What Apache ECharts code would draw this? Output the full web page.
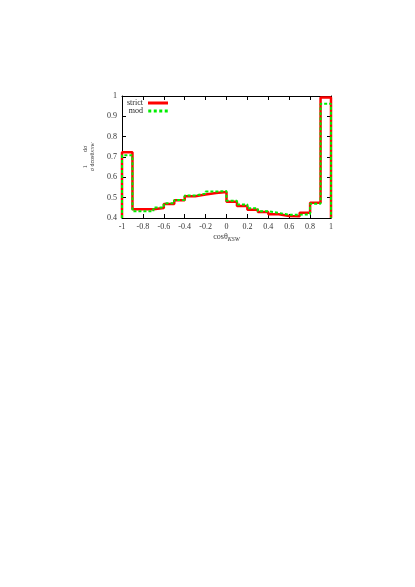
<!DOCTYPE html>
<html><head><meta charset="utf-8">
<script src="https://cdn.jsdelivr.net/npm/echarts@6/dist/echarts.min.js"></script>
<style>html,body{margin:0;padding:0;background:#fff}#c{width:415px;height:587px}</style>
</head><body><div id="c"></div>
<script>
// bin lower edges of cos(theta_KSW), width 0.1
var binEdges = [-1,-0.9,-0.8,-0.7,-0.6,-0.5,-0.4,-0.3,-0.2,-0.1,0,0.1,0.2,0.3,0.4,0.5,0.6,0.7,0.8,0.9];
var strictVals = [0.723,0.443,0.443,0.449,0.469,0.487,0.507,0.516,0.523,0.528,0.480,0.459,0.441,0.430,0.418,0.410,0.408,0.426,0.475,0.993];
var modVals    = [0.708,0.433,0.433,0.452,0.472,0.489,0.511,0.520,0.530,0.533,0.485,0.467,0.448,0.433,0.425,0.416,0.416,0.418,0.470,0.962];
var xTicks = [-1,-0.8,-0.6,-0.4,-0.2,0,0.2,0.4,0.6,0.8,1];
var yTicks = [0.4,0.5,0.6,0.7,0.8,0.9,1];

function hist(vals){
  var d = [[binEdges[0], 0.4]];
  for (var i=0;i<vals.length;i++) d.push([binEdges[i], vals[i]]);
  d.push([1, vals[vals.length-1]]);
  d.push([1, 0.4]);
  return d;
}
var font = 'Liberation Serif';
var fmt = function(v){ return String(+v.toFixed(1)); };
var chart = echarts.init(document.getElementById('c'));
var axBase = {
  type:'value', min:-1, max:1, interval:0.2,
  axisLine:{show:true,onZero:false,lineStyle:{color:'#000',width:1}},
  axisTick:{show:true,inside:true,length:4,lineStyle:{color:'#000',width:1}},
  splitLine:{show:false}
};
var ayBase = {
  type:'value', min:0.4, max:1, interval:0.1,
  axisLine:{show:true,onZero:false,lineStyle:{color:'#000',width:1}},
  axisTick:{show:true,inside:true,length:4,lineStyle:{color:'#000',width:1}},
  splitLine:{show:false}
};
chart.setOption({
  animation:false,
  backgroundColor:'#fff',
  grid:{left:122,top:96,width:209,height:122},
  legend:{
    orient:'vertical', left:118, top:97, align:'right', itemGap:0,
    itemWidth:20, itemHeight:3, padding:[2,5,2,5],
    formatter:'{t|{name}}',
    textStyle:{fontFamily:font,fontSize:8,color:'#222',lineHeight:7,
      rich:{t:{fontFamily:font,fontSize:8,color:'#222',width:20,align:'right',lineHeight:7}}},
    data:[
      {name:'strict',icon:'rect',itemStyle:{color:'#ff0000'}},
      {name:'mod',icon:'path://M0,0h3v3h-3zM5.5,0h3v3h-3zM11,0h3v3h-3zM16.5,0h3v3h-3z',itemStyle:{color:'#00ee00'}}
    ]
  },
  xAxis:[
    Object.assign({}, axBase, {position:'bottom',
      axisLabel:{fontFamily:font,fontSize:8,color:'#333',margin:5,formatter:fmt},
      name:'{a|cosθ}{b|KSW}', nameLocation:'middle', nameGap:14,
      nameTextStyle:{rich:{a:{fontFamily:font,fontSize:8,color:'#333'},b:{fontFamily:font,fontSize:6,fontStyle:'italic',color:'#333',verticalAlign:'bottom',padding:[4,0,0,0]}}}
    }),
    Object.assign({}, axBase, {position:'top', axisLabel:{show:false}})
  ],
  yAxis:[
    Object.assign({}, ayBase, {position:'left',
      axisLabel:{fontFamily:font,fontSize:8,color:'#333',margin:5,formatter:fmt},
      name:'{n|1}    {n|dσ}\n{n|σ}{n| dcosθ}{s|KSW}', nameLocation:'middle', nameGap:25, nameRotate:90,
      nameTextStyle:{lineHeight:7,rich:{n:{fontFamily:font,fontSize:6,color:'#333',lineHeight:7},s:{fontFamily:font,fontSize:5,fontStyle:'italic',color:'#333',lineHeight:7}}}
    }),
    Object.assign({}, ayBase, {position:'right', axisLabel:{show:false}})
  ],
  series:[
    {name:'strict', type:'line', step:'end', data:hist(strictVals), showSymbol:false, symbol:'none',
     lineStyle:{color:'#ff0000',width:2.5}, itemStyle:{color:'#ff0000'}, z:2},
    {name:'mod', type:'line', step:'end', data:hist(modVals), showSymbol:false, symbol:'none',
     lineStyle:{color:'#00ee00',width:2,type:[3,2]}, itemStyle:{color:'#00ee00'}, z:3}
  ]
});
</script></body></html>
